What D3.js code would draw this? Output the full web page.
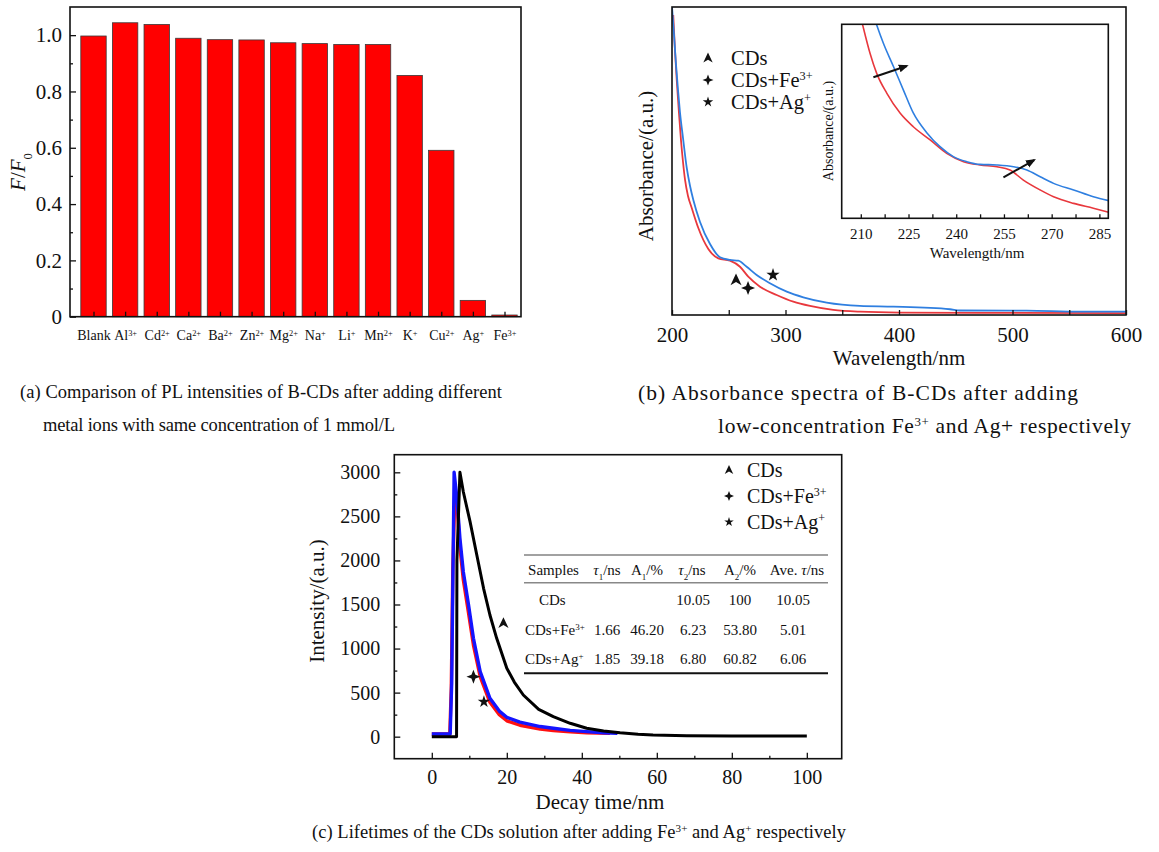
<!DOCTYPE html>
<html>
<head>
<meta charset="utf-8">
<script src="https://cdn.jsdelivr.net/npm/d3@7"></script>
<style>
  body { margin: 0; background: #fff; }
  svg { display: block; font-family: "Liberation Serif", "Times New Roman", serif; }
</style>
</head>
<body>
<svg id="fig" width="1159" height="852"></svg>
<script>
// ---------- (a) relative PL intensity F/F0 after adding each ion ----------
const ionNames   = ["Blank", "Al", "Cd", "Ca", "Ba", "Zn", "Mg", "Na", "Li", "Mn", "K", "Cu", "Ag", "Fe"];
const ionCharges = ["", "3+", "2+", "2+", "2+", "2+", "2+", "+", "+", "2+", "+", "2+", "+", "3+"];
const ratioFF0   = [0.997, 1.044, 1.038, 0.989, 0.984, 0.983, 0.973, 0.970, 0.967, 0.967, 0.857, 0.591, 0.058, 0.006];
const ratioTicks = [0, 0.2, 0.4, 0.6, 0.8, 1.0];

// ---------- (b) absorbance spectra (a.u.) ----------
const wlFe  = [201.1, 202.6, 204.4, 206.2, 207.9, 209.7, 211.5, 214.1, 217.4, 223.2, 232.0, 240.8, 251.1, 259.9, 267.2, 277.5, 292.2, 306.9, 321.6, 342.1, 365.6, 400.9, 489.0, 600.0];
const absFe = [2.922, 2.581, 2.250, 1.958, 1.704, 1.490, 1.315, 1.159, 1.042, 0.847, 0.643, 0.552, 0.529, 0.470, 0.373, 0.276, 0.195, 0.130, 0.088, 0.049, 0.032, 0.024, 0.021, 0.019];
const wlAg  = [200.0, 201.8, 203.5, 205.3, 207.0, 209.7, 213.0, 215.9, 218.8, 224.7, 233.5, 242.3, 251.1, 258.4, 265.8, 274.6, 286.3, 301.1, 315.7, 336.3, 365.6, 395.0, 444.9, 453.7, 512.5, 559.5, 600.0];
const absAg = [3.000, 2.727, 2.445, 2.192, 1.977, 1.724, 1.432, 1.256, 1.120, 0.906, 0.692, 0.562, 0.536, 0.529, 0.470, 0.390, 0.309, 0.227, 0.172, 0.120, 0.088, 0.081, 0.056, 0.044, 0.042, 0.032, 0.032];
const wlTicksB = [200, 250, 300, 350, 400, 450, 500, 550, 600];

// inset: 204-288 nm, relative absorbance
const insetWlFe  = [209.5, 210.6, 212.9, 215.0, 218.2, 222.4, 226.5, 231.8, 237.0, 242.3, 247.5, 252.8, 256.9, 261.1, 266.4, 270.6, 276.9, 283.1, 287.9];
const insetAbsFe = [1.07, 0.996, 0.851, 0.747, 0.644, 0.541, 0.472, 0.404, 0.335, 0.292, 0.275, 0.266, 0.249, 0.197, 0.146, 0.111, 0.077, 0.052, 0.031];
const insetWlAg  = [213.5, 215.0, 217.1, 220.3, 223.4, 226.5, 230.8, 234.9, 239.1, 243.3, 247.5, 252.8, 258.0, 262.2, 266.4, 270.6, 276.9, 283.1, 287.9];
const insetAbsAg = [1.07, 0.996, 0.902, 0.781, 0.661, 0.543, 0.440, 0.369, 0.318, 0.292, 0.278, 0.275, 0.266, 0.249, 0.214, 0.180, 0.146, 0.111, 0.091];
const insetTicks = [210, 217.5, 225, 232.5, 240, 247.5, 255, 262.5, 270, 277.5, 285];

// ---------- (c) fluorescence decay ----------
const tCDs = [0, 6.6, 6.7, 7.5, 8.4, 10.2, 12.0, 13.8, 15.5, 17.3, 20.0, 22.0, 24.4, 28.5, 32.4, 36.9, 41.3, 45.8, 50.2, 55.0, 59.0, 68.0, 80.0, 100.0];
const iCDs = [0, 0, 2005, 3000, 2780, 2440, 2062, 1684, 1381, 1116, 776, 620, 473, 310, 227, 152, 95, 65, 45, 28, 19, 11, 8, 8];
const tFe  = [0, 4.8, 5.2, 5.6, 6.2, 6.8, 7.5, 8.4, 9.8, 11.1, 12.9, 15.5, 18.0, 20.0, 23.5, 28.9, 32.4, 36.9, 41.3, 47.5];
const iFe  = [30, 30, 560, 1900, 2837, 2600, 2150, 1780, 1400, 1040, 680, 390, 250, 180, 130, 85, 70, 55, 45, 38];
const tAg  = [0, 4.9, 5.3, 5.95, 6.7, 7.5, 8.4, 9.8, 11.1, 12.9, 15.5, 18.0, 20.0, 23.5, 28.9, 32.4, 36.9, 41.3, 45.8, 49.5];
const iAg  = [30, 30, 600, 3000, 2705, 2251, 1872, 1494, 1116, 738, 436, 290, 220, 165, 115, 95, 72, 57, 45, 38];
const timeTicks = [0, 20, 40, 60, 80, 100];
const intensityTicks = [0, 500, 1000, 1500, 2000, 2500, 3000];

// lifetime fit table
const tableHead = ["Samples", "*τ*_{1}/ns", "A_{1}/%", "*τ*_{2}/ns", "A_{2}/%", "Ave. *τ*/ns"];
const samples   = ["CDs", "CDs+Fe^{3+}", "CDs+Ag^{+}"];
const tau1      = ["", "1.66", "1.85"];
const amp1      = ["", "46.20", "39.18"];
const tau2      = ["10.05", "6.23", "6.80"];
const amp2      = ["100", "53.80", "60.82"];
const aveTau    = ["10.05", "5.01", "6.06"];

const legendLabels = ["CDs", "CDs+Fe^{3+}", "CDs+Ag^{+}"];
const legendKinds  = ["tri", "star4", "star5"];

// ------------------------------------------------------------------
const svg = d3.select("#fig");
svg.append("rect").attr("width", 1159).attr("height", 852).attr("fill", "#fff");

// text with ^{sup}, _{sub} and *italic* parts
function rich(sel, str, fs) {
  const re = /(\^\{[^}]*\}|_\{[^}]*\}|\*[^*]+\*)/g;
  str.split(re).filter(s => s && s.length).forEach(s => {
    const ts = sel.append("tspan");
    if (s.startsWith("^{")) ts.text(s.slice(2, -1)).attr("baseline-shift", "super").attr("font-size", fs * 0.6);
    else if (s.startsWith("_{")) ts.text(s.slice(2, -1)).attr("baseline-shift", "sub").attr("font-size", fs * 0.6);
    else if (s.startsWith("*")) ts.text(s.slice(1, -1)).attr("font-style", "italic");
    else ts.text(s);
  });
  return sel;
}
function label(g, x, y, str, fs, anchor, rot, width) {
  const t = g.append("text")
    .attr("transform", `translate(${x},${y})` + (rot ? ` rotate(${rot})` : ""))
    .attr("text-anchor", anchor || "start")
    .attr("dy", "0.35em")
    .attr("font-size", fs)
    .attr("fill", "#111");
  if (width) t.attr("textLength", width).attr("lengthAdjust", "spacing");
  return rich(t, str, fs);
}
function markerPath(kind, s) {
  if (kind === "tri") return `M0,${-s}L${0.85 * s},${0.8 * s}L0,${0.3 * s}L${-0.85 * s},${0.8 * s}Z`;
  if (kind === "star4") { const r = s * 0.28; return `M0,${-s}L${r},${-r}L${s},0L${r},${r}L0,${s}L${-r},${r}L${-s},0L${-r},${-r}Z`; }
  return d3.symbol().type(d3.symbolStar).size((s * s) / 0.8908)();
}
function marker(g, kind, x, y, s) {
  g.append("path").attr("d", markerPath(kind, s)).attr("transform", `translate(${x},${y})`).attr("fill", "#111");
}
function styleAxis(g, fs) {
  g.attr("font-family", null).attr("font-size", fs);
  g.select(".domain").remove();
  g.selectAll(".tick line").attr("stroke", "#111").attr("stroke-width", 1.3);
  g.selectAll(".tick text").attr("fill", "#111");
}

// ========== panel (a) ==========
{
  const L = 70, R = 521, T = 7, B = 316.7;
  const x = d3.scalePoint().domain(ionNames).range([93.5, 504.5]);
  const y = d3.scaleLinear().domain([0, 1.1]).range([B, T]);
  const g = svg.append("g");

  g.selectAll("rect.bar").data(ionNames).join("rect")
    .attr("class", "bar")
    .attr("x", d => x(d) - 12.7)
    .attr("width", 25.4)
    .attr("y", (d, i) => y(ratioFF0[i]))
    .attr("height", (d, i) => B - y(ratioFF0[i]))
    .attr("fill", "#ff0000")
    .attr("stroke", "#3a3a3a")
    .attr("stroke-width", 0.8);

  const ax = g.append("g").attr("transform", `translate(0,${B})`)
    .call(d3.axisBottom(x).tickSize(-5).tickPadding(13));
  styleAxis(ax, 14);
  ax.selectAll(".tick text").each(function (d, i) {
    const t = d3.select(this).text("");
    rich(t, ionCharges[i] ? `${d}^{${ionCharges[i]}}` : d, 14);
  });

  const ay = g.append("g").attr("transform", `translate(${L},0)`)
    .call(d3.axisLeft(y).tickValues(ratioTicks).tickFormat(d => d === 0 ? "0" : d3.format(".1f")(d)).tickSize(-6).tickPadding(8));
  styleAxis(ay, 21);
  const ay2 = g.append("g").attr("transform", `translate(${L},0)`)
    .call(d3.axisLeft(y).tickValues([0.1, 0.3, 0.5, 0.7, 0.9]).tickFormat("").tickSize(-3));
  styleAxis(ay2, 10);

  g.append("rect").attr("x", L).attr("y", T).attr("width", R - L).attr("height", B - T)
    .attr("fill", "none").attr("stroke", "#111").attr("stroke-width", 1.6);

  label(g, 18, 172, "*F*/*F*_{0}", 21, "middle", -90);

  label(svg, 20, 392, "(a) Comparison of PL intensities of B-CDs after adding different", 18.5, "start", 0, 482);
  label(svg, 43, 425, "metal ions with same concentration of 1 mmol/L", 18.5, "start", 0, 352);
}

// ========== panel (b) ==========
{
  const L = 672, R = 1126, T = 7, B = 315;
  const x = d3.scaleLinear().domain([200, 600]).range([L, R]);
  const y = d3.scaleLinear().domain([0, 3]).range([B, T]);
  const g = svg.append("g");

  g.append("clipPath").attr("id", "clipB").append("rect")
    .attr("x", L).attr("y", T).attr("width", R - L).attr("height", B - T);

  const line = d3.line().x(d => x(d[0])).y(d => y(d[1])).curve(d3.curveMonotoneX);
  const curves = g.append("g").attr("clip-path", "url(#clipB)");
  curves.append("path").attr("d", line(d3.zip(wlFe, absFe)))
    .attr("fill", "none").attr("stroke", "#e8383d").attr("stroke-width", 1.8);
  curves.append("path").attr("d", line(d3.zip(wlAg, absAg)))
    .attr("fill", "none").attr("stroke", "#2f7fe0").attr("stroke-width", 1.8);

  const ax = g.append("g").attr("transform", `translate(0,${B})`)
    .call(d3.axisBottom(x).tickValues(wlTicksB).tickFormat(d => d % 100 === 0 ? d : "").tickSize(-5).tickPadding(12));
  styleAxis(ax, 21);

  g.append("rect").attr("x", L).attr("y", T).attr("width", R - L).attr("height", B - T)
    .attr("fill", "none").attr("stroke", "#111").attr("stroke-width", 1.6);

  label(g, (L + R) / 2, 358, "Wavelength/nm", 21, "middle");
  label(g, 646, 166, "Absorbance/(a.u.)", 21, "middle", -90);

  // legend
  legendLabels.forEach((s, i) => {
    marker(g, legendKinds[i], 708, 58 + i * 22, 5.5);
    label(g, 731, 58 + i * 22, s, 20.5, "start");
  });

  // curve markers
  marker(g, "tri", x(256.4), y(0.341), 6.5);
  marker(g, "star4", x(267.0), y(0.263), 7);
  marker(g, "star5", x(289.0), y(0.390), 7);

  // inset
  const iL = 841.7, iR = 1108.3, iT = 24.3, iB = 218.3;
  const xi = d3.scaleLinear().domain([204, 287.8]).range([iL, iR]);
  const yi = d3.scaleLinear().domain([0, 1]).range([iB, iT]);
  const gi = g.append("g");
  gi.append("rect").attr("x", iL).attr("y", iT).attr("width", iR - iL).attr("height", iB - iT).attr("fill", "#fff");
  gi.append("clipPath").attr("id", "clipI").append("rect")
    .attr("x", iL).attr("y", iT).attr("width", iR - iL).attr("height", iB - iT);
  const lineI = d3.line().x(d => xi(d[0])).y(d => yi(d[1])).curve(d3.curveMonotoneX);
  const ic = gi.append("g").attr("clip-path", "url(#clipI)");
  ic.append("path").attr("d", lineI(d3.zip(insetWlFe, insetAbsFe)))
    .attr("fill", "none").attr("stroke", "#e8383d").attr("stroke-width", 1.6);
  ic.append("path").attr("d", lineI(d3.zip(insetWlAg, insetAbsAg)))
    .attr("fill", "none").attr("stroke", "#2f7fe0").attr("stroke-width", 1.6);

  const axi = gi.append("g").attr("transform", `translate(0,${iB})`)
    .call(d3.axisBottom(xi).tickValues(insetTicks).tickFormat(d => d % 15 === 0 ? d : "").tickSize(-4).tickPadding(10));
  styleAxis(axi, 15);

  gi.append("rect").attr("x", iL).attr("y", iT).attr("width", iR - iL).attr("height", iB - iT)
    .attr("fill", "none").attr("stroke", "#111").attr("stroke-width", 1.6);
  label(gi, 977, 253, "Wavelength/nm", 15, "middle");
  label(gi, 828, 131, "Absorbance/(a.u.)", 14, "middle", -90);

  // red-shift arrows
  const defs = svg.append("defs");
  defs.append("marker").attr("id", "arrowHead").attr("viewBox", "0 0 10 10")
    .attr("refX", 8).attr("refY", 5).attr("markerWidth", 5).attr("markerHeight", 5)
    .attr("orient", "auto").attr("markerUnits", "strokeWidth")
    .append("path").attr("d", "M0,1L10,5L0,9Z").attr("fill", "#111");
  [[213.96, 0.727, 224.47, 0.785], [254.84, 0.211, 264.5, 0.300]].forEach(a => {
    gi.append("line").attr("x1", xi(a[0])).attr("y1", yi(a[1])).attr("x2", xi(a[2])).attr("y2", yi(a[3]))
      .attr("stroke", "#111").attr("stroke-width", 2).attr("marker-end", "url(#arrowHead)");
  });

  label(svg, 638, 392, "(b) Absorbance spectra of B-CDs after adding", 21.5, "start", 0, 440);
  label(svg, 718, 425, "low-concentration Fe^{3+} and Ag+ respectively", 21.5, "start", 0, 413);
}

// ========== panel (c) ==========
{
  const L = 394.3, R = 841.7, T = 454.7, B = 758.7;
  const x = d3.scaleLinear().domain([-10, 109.3]).range([L, R]);
  const y = d3.scaleLinear().domain([-250, 3200]).range([B, T]);
  const g = svg.append("g");

  g.append("clipPath").attr("id", "clipC").append("rect")
    .attr("x", L).attr("y", T).attr("width", R - L).attr("height", B - T);
  const line = d3.line().x(d => x(d[0])).y(d => y(d[1]));
  const cg = g.append("g").attr("clip-path", "url(#clipC)");
  cg.append("path").attr("d", line(d3.zip(tFe, iFe)))
    .attr("fill", "none").attr("stroke", "#ff1010").attr("stroke-width", 3.4).attr("stroke-linejoin", "round");
  cg.append("path").attr("d", line(d3.zip(tAg, iAg)))
    .attr("fill", "none").attr("stroke", "#1414ff").attr("stroke-width", 3.4).attr("stroke-linejoin", "round");
  cg.append("path").attr("d", line(d3.zip(tCDs, iCDs)))
    .attr("fill", "none").attr("stroke", "#000").attr("stroke-width", 3).attr("stroke-linejoin", "round");

  const ax = g.append("g").attr("transform", `translate(0,${B})`)
    .call(d3.axisBottom(x).tickValues(timeTicks).tickSize(-6).tickPadding(11));
  styleAxis(ax, 20);
  const ax2 = g.append("g").attr("transform", `translate(0,${B})`)
    .call(d3.axisBottom(x).tickValues([10, 30, 50, 70, 90]).tickFormat("").tickSize(-3));
  styleAxis(ax2, 10);
  const ay = g.append("g").attr("transform", `translate(${L},0)`)
    .call(d3.axisLeft(y).tickValues(intensityTicks).tickFormat(d3.format("d")).tickSize(-6).tickPadding(14));
  styleAxis(ay, 20);
  const ay2 = g.append("g").attr("transform", `translate(${L},0)`)
    .call(d3.axisLeft(y).tickValues([250, 750, 1250, 1750, 2250, 2750]).tickFormat("").tickSize(-3));
  styleAxis(ay2, 10);

  g.append("rect").attr("x", L).attr("y", T).attr("width", R - L).attr("height", B - T)
    .attr("fill", "none").attr("stroke", "#111").attr("stroke-width", 1.6);

  label(g, 600, 802, "Decay time/nm", 21, "middle");
  label(g, 317, 601, "Intensity/(a.u.)", 21, "middle", -90);

  legendLabels.forEach((s, i) => {
    marker(g, legendKinds[i], 729, 470 + i * 26, 5);
    label(g, 747, 470 + i * 26, s, 20, "start");
  });

  marker(g, "tri", x(19.1), y(1287), 6);
  marker(g, "star4", x(11.1), y(681), 7);
  marker(g, "star5", x(13.9), y(397), 6.5);

  // lifetime table
  const tg = g.append("g");
  tg.append("line").attr("x1", 524).attr("x2", 828).attr("y1", 555).attr("y2", 555).attr("stroke", "#444").attr("stroke-width", 1.2);
  tg.append("line").attr("x1", 524).attr("x2", 828).attr("y1", 582.7).attr("y2", 582.7).attr("stroke", "#888").attr("stroke-width", 1.6);
  tg.append("line").attr("x1", 524).attr("x2", 828).attr("y1", 673.3).attr("y2", 673.3).attr("stroke", "#111").attr("stroke-width", 2);
  const colX = [553, 607, 647, 693, 740, 793];
  const headX = [553.5, 607, 647, 692, 740, 797];
  tableHead.forEach((h, j) => label(tg, headX[j], 569.5, h, 15, "middle"));
  const cols = [samples, tau1, amp1, tau2, amp2, aveTau];
  const rowY = [600, 629.3, 658.3];
  samples.forEach((s, i) => {
    cols.forEach((c, j) => {
      if (c[i]) label(tg, j === 0 ? (i === 0 ? 539 : 525) : colX[j], rowY[i], c[i], 15, j === 0 ? "start" : "middle");
    });
  });

  label(svg, 312, 832, "(c) Lifetimes of the CDs solution after adding Fe^{3+} and Ag^{+} respectively", 18.5, "start", 0, 534);
}
</script>
</body>
</html>
